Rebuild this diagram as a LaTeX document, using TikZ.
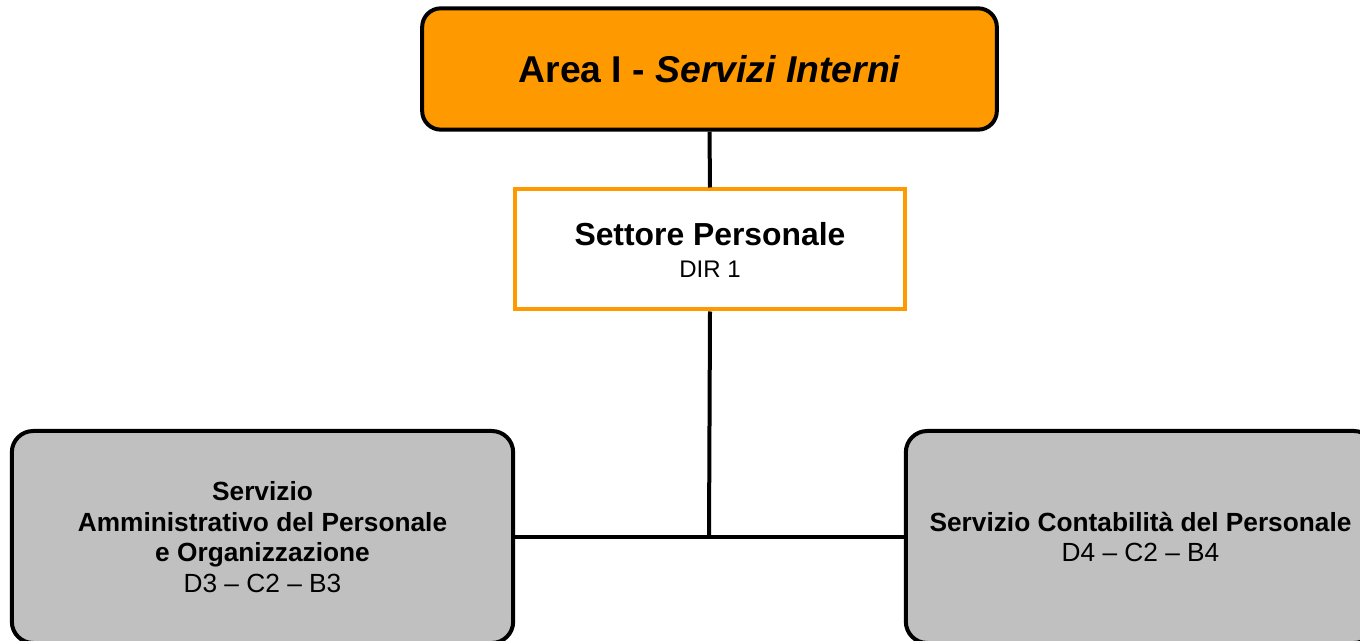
\documentclass[tikz,border=0pt]{standalone}
\usepackage{fontspec}
\setmainfont{Liberation Sans}
\definecolor{orng}{HTML}{FF9900}
\definecolor{grayfill}{HTML}{C0C0C0}
\begin{document}
\begin{tikzpicture}[x=0.75pt,y=-0.75pt,
  topbox/.style={draw=black,line width=3pt,fill=orng,rounded corners=14pt,minimum width=431pt,minimum height=91pt,inner sep=0pt},
  midbox/.style={draw=orng,line width=3pt,fill=white,minimum width=293pt,minimum height=90pt,inner sep=0pt,align=center},
  servbox/.style={draw=black,line width=3pt,fill=grayfill,rounded corners=16pt,inner sep=0pt,align=center,font=\fontsize{19.7}{23}\selectfont},
  conn/.style={line width=3pt,black}]
\useasboundingbox (0,0) rectangle (1360,641);
\clip (0,0) rectangle (1360,641);
\node[topbox] (area) at (709.5,69) {\fontsize{28}{34}\selectfont\bfseries Area I - \itshape Servizi Interni};
\node[midbox,font=\fontsize{18}{24}\selectfont] (sett) at (710,249.5) {{\fontsize{23.9}{24}\selectfont\bfseries Settore Personale}\\DIR 1};
\node[servbox,minimum width=376pt,minimum height=159pt] (amm) at (262.5,537) {\textbf{Servizio}\\\textbf{Amministrativo del Personale}\\\textbf{e Organizzazione}\\D3 – C2 – B3};
\node[servbox,minimum width=352pt,minimum height=159pt] (cont) at (1140.5,537) {\textbf{Servizio Contabilità del Personale}\\D4 – C2 – B4};
\coordinate (junc) at (709,537);
\draw[conn] (area.south) -- (sett.north);
\draw[conn] (sett.south) -- (junc);
\draw[conn] (amm.east) -- (cont.west);
\end{tikzpicture}
\end{document}
